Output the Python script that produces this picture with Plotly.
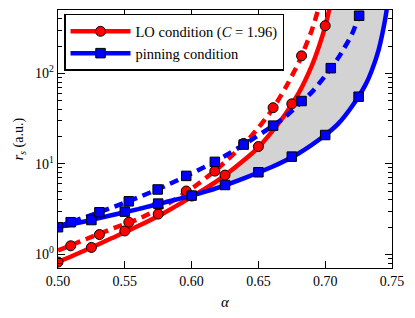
import plotly.graph_objects as go

# ---- data ----
# theory curves
lo_solid_x = [0.50, 0.52, 0.54, 0.56, 0.58, 0.60, 0.62, 0.64, 0.65, 0.66, 0.67, 0.68, 0.69, 0.695, 0.70, 0.705]
lo_solid_y = [0.82, 1.10, 1.50, 2.05, 2.90, 4.30, 6.6, 11.2, 15.2, 22.5, 35, 60, 122, 192, 330, 680]

lo_dash_x = [0.50, 0.52, 0.54, 0.56, 0.58, 0.60, 0.62, 0.64, 0.65, 0.66, 0.67, 0.68, 0.69, 0.695, 0.70]
lo_dash_y = [1.10, 1.45, 1.90, 2.45, 3.45, 5.3, 9.0, 17, 25, 39, 68, 130, 300, 520, 950]

pin_solid_x = [0.50, 0.52, 0.54, 0.56, 0.58, 0.60, 0.62, 0.64, 0.66, 0.68, 0.70, 0.71, 0.72, 0.73, 0.735, 0.74, 0.745, 0.748]
pin_solid_y = [1.99, 2.30, 2.70, 3.15, 3.75, 4.45, 5.45, 7.0, 9.2, 13.0, 20.8, 28, 43, 74, 109, 182, 405, 800]

pin_dash_x = [0.50, 0.52, 0.54, 0.56, 0.58, 0.60, 0.62, 0.64, 0.66, 0.67, 0.68, 0.69, 0.70, 0.71, 0.72, 0.725, 0.73]
pin_dash_y = [2.02, 2.56, 3.26, 4.24, 5.66, 7.8, 11.1, 16.6, 25.8, 33, 45, 62, 94, 150, 270, 420, 800]

# data points
lo_pts_a_x = [0.50, 0.525, 0.55, 0.575, 0.60, 0.625, 0.65, 0.675, 0.70]
lo_pts_a_y = [0.82, 1.19, 1.81, 2.78, 4.4, 7.5, 15.5, 46, 336]
lo_pts_b_x = [0.5095, 0.531, 0.553, 0.5746, 0.596, 0.6174, 0.639, 0.661, 0.6823]
lo_pts_b_y = [1.24, 1.65, 2.26, 3.55, 5.0, 8.3, 16.8, 41.7, 156]

pin_pts_a_x = [0.50, 0.525, 0.55, 0.575, 0.60, 0.625, 0.65, 0.675, 0.70, 0.725]
pin_pts_a_y = [1.99, 2.39, 2.96, 3.63, 4.45, 5.83, 8.06, 12.0, 20.8, 55.1]
pin_pts_b_x = [0.5095, 0.531, 0.553, 0.5746, 0.596, 0.6174, 0.639, 0.661, 0.6823, 0.7042, 0.7254]
pin_pts_b_y = [2.26, 2.91, 3.85, 5.2, 7.35, 10.5, 16.3, 26.4, 49.4, 114, 433]

x_ticks = [0.50, 0.55, 0.60, 0.65, 0.70, 0.75]
x_tick_labels = ["0.50", "0.55", "0.60", "0.65", "0.70", "0.75"]
y_ticks = [1, 10, 100]
y_tick_labels = ["10<sup>0</sup>", "10<sup>1</sup>", "10<sup>2</sup>"]

legend_names = ["LO condition (<i>C</i> = 1.96)", "pinning condition"]

RED = "#ff0000"
BLUE = "#0000ff"
FONT = "Liberation Serif"

fig = go.Figure()

# shaded region between LO solid (from crossing) and pinning solid curves
start = lo_solid_x.index(0.60)
pstart = pin_solid_x.index(0.60)
fill_x = lo_solid_x[start:] + pin_solid_x[pstart:][::-1]
fill_y = lo_solid_y[start:] + pin_solid_y[pstart:][::-1]
fig.add_trace(go.Scatter(x=fill_x, y=fill_y, mode="none", fill="toself",
                         fillcolor="#d3d3d3", showlegend=False, hoverinfo="skip"))

LW = 4.5
DASH = "9px,6px"

fig.add_trace(go.Scatter(x=lo_solid_x, y=lo_solid_y, mode="lines",
                         line=dict(color=RED, width=LW, shape="spline", smoothing=0.6), showlegend=False))
fig.add_trace(go.Scatter(x=lo_dash_x, y=lo_dash_y, mode="lines",
                         line=dict(color=RED, width=LW, dash=DASH, shape="spline", smoothing=0.6), showlegend=False))
circle = dict(symbol="circle", size=10, color=RED, line=dict(color="black", width=1))
fig.add_trace(go.Scatter(x=lo_pts_a_x, y=lo_pts_a_y, mode="markers", marker=circle, showlegend=False))
fig.add_trace(go.Scatter(x=lo_pts_b_x, y=lo_pts_b_y, mode="markers", marker=circle, showlegend=False))

fig.add_trace(go.Scatter(x=pin_solid_x, y=pin_solid_y, mode="lines",
                         line=dict(color=BLUE, width=LW, shape="spline", smoothing=0.6), showlegend=False))
fig.add_trace(go.Scatter(x=pin_dash_x, y=pin_dash_y, mode="lines",
                         line=dict(color=BLUE, width=LW, dash=DASH, shape="spline", smoothing=0.6), showlegend=False))
square = dict(symbol="square", size=9.5, color=BLUE, line=dict(color="black", width=1))
fig.add_trace(go.Scatter(x=pin_pts_a_x, y=pin_pts_a_y, mode="markers", marker=square, showlegend=False))
fig.add_trace(go.Scatter(x=pin_pts_b_x, y=pin_pts_b_y, mode="markers", marker=square, showlegend=False))

# legend entries
fig.add_trace(go.Scatter(x=[None], y=[None], mode="lines+markers", name=legend_names[0],
                         line=dict(color=RED, width=LW), marker=circle))
fig.add_trace(go.Scatter(x=[None], y=[None], mode="lines+markers", name=legend_names[1],
                         line=dict(color=BLUE, width=LW), marker=square))

axis_common = dict(showline=True, linecolor="black", linewidth=1.2, mirror="allticks",
                   ticks="inside", ticklen=7, tickcolor="black", tickwidth=1,
                   showgrid=False, zeroline=False,
                   tickfont=dict(family=FONT, size=14, color="black"))

fig.update_layout(
    width=415, height=318,
    margin=dict(l=58, r=23, t=10, b=50),
    paper_bgcolor="white", plot_bgcolor="white",
    font=dict(family=FONT, color="black"),
    xaxis=dict(range=[0.5, 0.75], tickvals=x_ticks, ticktext=x_tick_labels,
               title=dict(text="<i>α</i>", font=dict(family=FONT, size=15), standoff=8),
               **axis_common),
    yaxis=dict(type="log", range=[-0.152, 2.70], tickvals=y_ticks, ticktext=y_tick_labels,
               title=dict(text="<i>r<sub>s</sub></i> (a.u.)", font=dict(family=FONT, size=14), standoff=8),
               minor=dict(ticks="inside", ticklen=4, tickcolor="black", tickwidth=1,
                          dtick="D1", showgrid=False),
               **axis_common),
    legend=dict(x=0.018, y=0.985, xanchor="left", yanchor="top",
                bgcolor="white", bordercolor="black", borderwidth=1.5,
                font=dict(family=FONT, size=14.5, color="black"),
                itemwidth=60, tracegroupgap=0),
    showlegend=True,
)

fig.write_html("out.html", config={"displayModeBar": False, "staticPlot": True},
               post_script="document.body.style.margin='0';document.body.style.overflow='hidden';")
